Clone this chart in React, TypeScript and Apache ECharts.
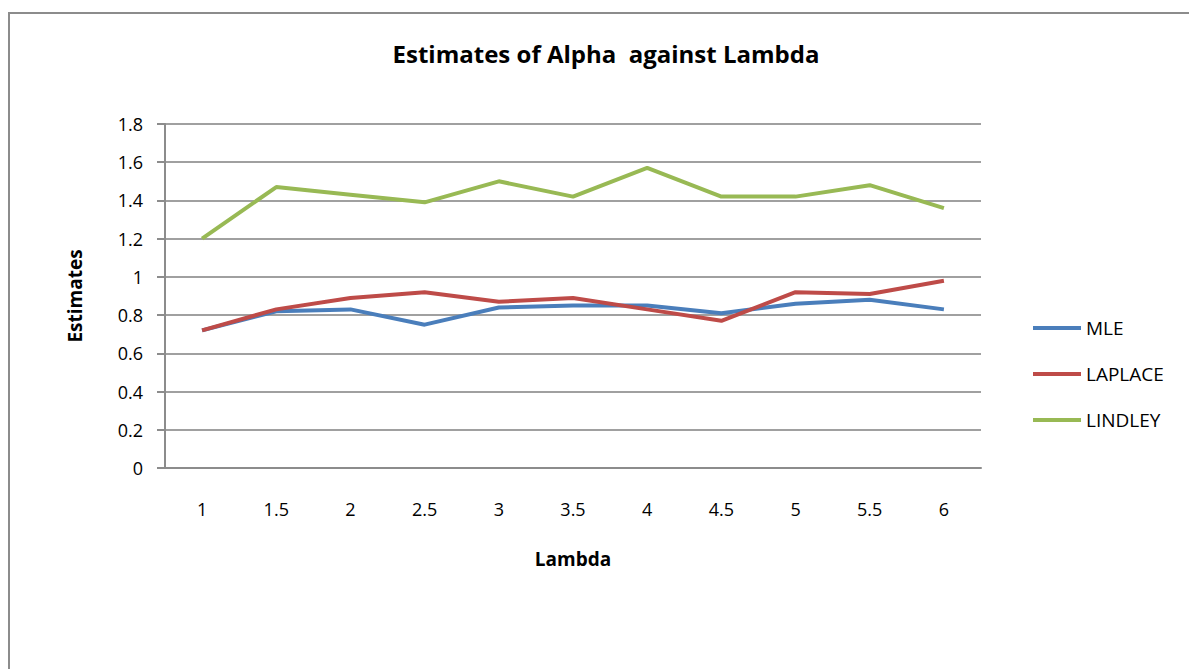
import React, { useEffect, useRef } from "react";
import * as echarts from "echarts";

const lambdas = ["1", "1.5", "2", "2.5", "3", "3.5", "4", "4.5", "5", "5.5", "6"];
const mle = [0.72, 0.82, 0.83, 0.75, 0.84, 0.85, 0.85, 0.81, 0.86, 0.88, 0.83];
const laplace = [0.72, 0.83, 0.89, 0.92, 0.87, 0.89, 0.83, 0.77, 0.92, 0.91, 0.98];
const lindley = [1.2, 1.47, 1.43, 1.39, 1.5, 1.42, 1.57, 1.42, 1.42, 1.48, 1.36];

const FONT = "'Open Sans', 'Noto Sans', sans-serif";

export default function App() {
  const ref = useRef<HTMLDivElement>(null);
  useEffect(() => {
    if (!ref.current) return;
    const chart = echarts.init(ref.current, null, { renderer: "svg" });
    const mk = (name: string, data: number[], color: string) => ({
      name,
      type: "line",
      data,
      symbol: "none",
      lineStyle: { width: 4, color },
      itemStyle: { color },
    });
    chart.setOption({
      animation: false,
      backgroundColor: "#ffffff",
      title: {
        text: "Estimates of Alpha  against Lambda",
        left: 601,
        textAlign: "center",
        top: 36,
        textStyle: { fontFamily: FONT, fontSize: 24, fontWeight: "bold", color: "#000" },
      },
      graphic: [
        {
          type: "rect",
          shape: { x: 9, y: 13, width: 1200, height: 700 },
          style: { fill: "none", stroke: "#8c8c8c", lineWidth: 2 },
          silent: true,
        },
      ],
      legend: {
        orient: "vertical",
        left: 1028,
        top: 313,
        icon: "rect",
        itemWidth: 48,
        itemHeight: 4,
        itemGap: 26,
        textStyle: { fontFamily: FONT, fontSize: 19, lineHeight: 20, color: "#000" },
        data: ["MLE", "LAPLACE", "LINDLEY"],
      },
      grid: { left: 165, right: 208, top: 124, bottom: 201 },
      xAxis: {
        type: "category",
        data: lambdas,
        boundaryGap: true,
        name: "Lambda",
        nameLocation: "middle",
        nameGap: 81,
        nameTextStyle: { fontFamily: FONT, fontSize: 19, fontWeight: "bold", color: "#000" },
        axisLine: { lineStyle: { color: "#8c8c8c", width: 2 } },
        axisTick: { show: false },
        axisLabel: { margin: 32, fontFamily: FONT, fontSize: 18, color: "#000" },
      },
      yAxis: {
        type: "value",
        min: 0,
        max: 1.8,
        interval: 0.2,
        name: "Estimates",
        nameLocation: "middle",
        nameGap: 81,
        nameRotate: 90,
        nameTextStyle: { fontFamily: FONT, fontSize: 19, fontWeight: "bold", color: "#000" },
        axisLine: { show: true, lineStyle: { color: "#8c8c8c", width: 2 } },
        axisTick: { show: true, length: 8, lineStyle: { color: "#8c8c8c", width: 2 } },
        axisLabel: {
          margin: 22,
          fontFamily: FONT,
          fontSize: 18,
          color: "#000",
          formatter: (v: number) => String(Math.round(v * 10) / 10),
        },
        splitLine: { show: true, lineStyle: { color: "#a0a0a0", width: 2 } },
      },
      series: [
        mk("MLE", mle, "#4a7ebb"),
        mk("LAPLACE", laplace, "#be4b48"),
        mk("LINDLEY", lindley, "#98b954"),
      ],
    });
    return () => chart.dispose();
  }, []);
  return (
    <div
      ref={ref}
      style={{ position: "fixed", left: 0, top: 0, width: 1189, height: 669 }}
    />
  );
}
